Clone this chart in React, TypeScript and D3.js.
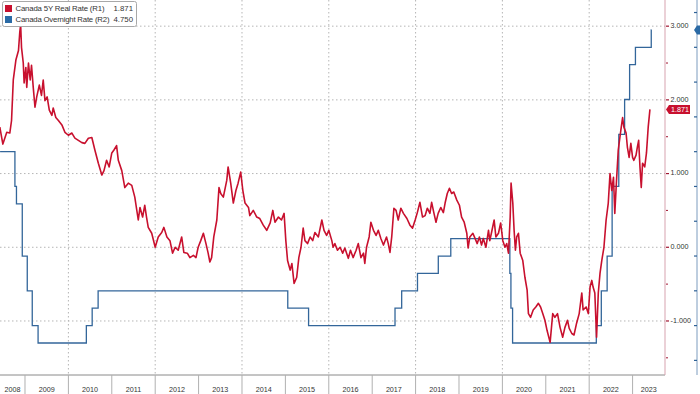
import React from "react";
import * as d3 from "d3";

// ---------- DATA ----------
const redT: number[] = [
  2008.42, 2008.49, 2008.58, 2008.65, 2008.69, 2008.73, 2008.79, 2008.85, 2008.88, 2008.9, 2008.92, 2008.96, 2008.98,
  2009.02, 2009.04, 2009.08, 2009.12, 2009.15, 2009.19, 2009.23, 2009.27, 2009.33, 2009.38, 2009.42, 2009.46, 2009.51,
  2009.56, 2009.62, 2009.65, 2009.71, 2009.77, 2009.85, 2009.92, 2010.0, 2010.08, 2010.15, 2010.23, 2010.31, 2010.38,
  2010.46, 2010.54, 2010.61, 2010.69, 2010.77, 2010.82, 2010.88, 2010.94, 2011.0, 2011.05, 2011.11, 2011.15, 2011.23,
  2011.3, 2011.38, 2011.46, 2011.53, 2011.61, 2011.65, 2011.71, 2011.76, 2011.8, 2011.84, 2011.92, 2012.0, 2012.07,
  2012.15, 2012.2, 2012.27, 2012.34, 2012.4, 2012.46, 2012.53, 2012.61, 2012.66, 2012.74, 2012.8, 2012.88, 2012.94,
  2012.99, 2013.05, 2013.11, 2013.17, 2013.22, 2013.26, 2013.3, 2013.35, 2013.42, 2013.47, 2013.51, 2013.57, 2013.65,
  2013.68, 2013.74, 2013.8, 2013.86, 2013.91, 2013.97, 2014.02, 2014.07, 2014.15, 2014.18, 2014.26, 2014.34, 2014.41,
  2014.49, 2014.57, 2014.65, 2014.71, 2014.76, 2014.84, 2014.91, 2014.97, 2015.01, 2015.05, 2015.11, 2015.15, 2015.2,
  2015.26, 2015.31, 2015.36, 2015.41, 2015.45, 2015.51, 2015.57, 2015.63, 2015.68, 2015.76, 2015.84, 2015.89, 2015.95,
  2016.0, 2016.07, 2016.1, 2016.14, 2016.2, 2016.26, 2016.32, 2016.37, 2016.45, 2016.5, 2016.56, 2016.63, 2016.68,
  2016.74, 2016.8, 2016.83, 2016.87, 2016.93, 2016.97, 2017.03, 2017.09, 2017.14, 2017.2, 2017.26, 2017.33, 2017.37,
  2017.41, 2017.45, 2017.5, 2017.55, 2017.6, 2017.66, 2017.72, 2017.8, 2017.87, 2017.93, 2017.99, 2018.04, 2018.1,
  2018.16, 2018.22, 2018.27, 2018.33, 2018.37, 2018.42, 2018.47, 2018.52, 2018.58, 2018.64, 2018.68, 2018.73, 2018.78,
  2018.83, 2018.88, 2018.95, 2019.01, 2019.06, 2019.12, 2019.18, 2019.21, 2019.25, 2019.32, 2019.37, 2019.42, 2019.47,
  2019.52, 2019.56, 2019.62, 2019.68, 2019.71, 2019.75, 2019.81, 2019.85, 2019.91, 2019.96, 2020.01, 2020.06, 2020.1,
  2020.14, 2020.18, 2020.2, 2020.24, 2020.27, 2020.3, 2020.33, 2020.37, 2020.41, 2020.47, 2020.52, 2020.57, 2020.6,
  2020.65, 2020.71, 2020.77, 2020.83, 2020.88, 2020.93, 2020.98, 2021.03, 2021.1, 2021.16, 2021.21, 2021.27, 2021.33,
  2021.39, 2021.44, 2021.5, 2021.54, 2021.6, 2021.65, 2021.71, 2021.77, 2021.83, 2021.86, 2021.93, 2021.98, 2022.02,
  2022.06, 2022.09, 2022.13, 2022.17, 2022.21, 2022.25, 2022.29, 2022.34, 2022.39, 2022.44, 2022.48, 2022.52, 2022.56,
  2022.59, 2022.63, 2022.67, 2022.73, 2022.77, 2022.8, 2022.85, 2022.88, 2022.92, 2022.96, 2023.0, 2023.03, 2023.08,
  2023.11, 2023.14, 2023.17, 2023.2, 2023.23, 2023.28, 2023.32, 2023.36, 2023.4,
];
const redV: number[] = [
  1.63, 1.4, 1.56, 1.55, 1.72, 2.27, 2.54, 2.67, 2.92, 3.02, 2.71, 2.5, 2.23,
  2.44, 2.17, 2.5, 2.27, 2.47, 2.17, 1.9, 2.04, 2.2, 2.06, 2.27, 1.99, 2.04,
  1.86, 1.79, 1.89, 1.76, 1.72, 1.66, 1.56, 1.52, 1.55, 1.48, 1.45, 1.42, 1.41,
  1.48, 1.49, 1.32, 1.14, 0.98, 1.04, 1.18, 1.09, 1.28, 1.32, 1.38, 1.18, 1.04,
  0.81, 0.87, 0.84, 0.68, 0.37, 0.54, 0.41, 0.57, 0.41, 0.27, 0.19, 0.0, 0.14,
  0.2, 0.27, 0.14, 0.09, -0.08, 0.0, -0.04, 0.14, -0.07, -0.08, -0.14, -0.11, -0.14,
  0.0, 0.09, 0.19, 0.05, -0.08, -0.2, -0.14, 0.14, 0.37, 0.81, 0.73, 0.68, 0.91,
  1.09, 0.87, 0.6, 0.77, 0.87, 1.02, 0.77, 0.6, 0.54, 0.43, 0.5, 0.41, 0.39,
  0.3, 0.23, 0.33, 0.5, 0.34, 0.41, 0.37, 0.46, 0.09, -0.18, -0.31, -0.22, -0.49,
  -0.41, -0.14, 0.0, 0.26, 0.09, 0.05, 0.14, 0.09, 0.2, 0.14, 0.37, 0.23, 0.16,
  0.23, 0.09, 0.0, 0.05, -0.04, 0.0, -0.08, -0.01, -0.15, -0.04, -0.14, -0.04, 0.05,
  -0.14, -0.08, -0.22, 0.0, 0.14, 0.34, 0.23, 0.16, 0.23, 0.12, 0.03, 0.14, 0.05,
  -0.07, 0.14, 0.53, 0.5, 0.37, 0.53, 0.46, 0.39, 0.3, 0.26, 0.37, 0.47, 0.61,
  0.41, 0.43, 0.53, 0.46, 0.61, 0.47, 0.34, 0.46, 0.54, 0.47, 0.6, 0.73, 0.8,
  0.73, 0.75, 0.64, 0.57, 0.41, 0.34, 0.19, -0.01, 0.14, 0.19, 0.12, 0.05, 0.14,
  0.03, 0.12, 0.0, 0.23, 0.09, 0.2, 0.37, 0.14, 0.19, 0.33, 0.09, 0.0, 0.05,
  -0.08, 0.41, 0.87, 0.6, 0.23, -0.04, 0.14, 0.19, -0.08, -0.18, -0.41, -0.58, -0.9,
  -0.95, -0.85, -0.81, -0.76, -0.81, -0.9, -0.99, -1.13, -1.29, -0.9, -0.95, -0.9, -1.09,
  -1.22, -1.09, -0.99, -1.1, -1.17, -1.19, -1.03, -0.9, -0.62, -0.85, -0.81, -0.9, -0.54,
  -0.45, -0.54, -0.62, -1.22, -0.62, -0.35, -0.18, 0.0, 0.37, 0.6, 1.0, 0.77, 0.95,
  0.46, 0.91, 1.32, 1.59, 1.76, 1.63, 1.55, 1.36, 1.22, 1.41, 1.22, 1.18, 1.25,
  1.36, 1.45, 1.09, 0.81, 1.14, 1.09, 1.28, 1.63, 1.871,
];

const blueDates: string[] = [
  "2008-06-05", "2008-10-08", "2008-10-21", "2008-12-09", "2009-01-20", "2009-03-03", "2009-04-21",
  "2010-06-01", "2010-07-20", "2010-09-08", "2015-01-21", "2015-07-15", "2017-07-12", "2017-09-06",
  "2018-01-17", "2018-07-11", "2018-10-24", "2020-03-04", "2020-03-13", "2020-03-27", "2022-03-02",
  "2022-04-13", "2022-06-01", "2022-07-13", "2022-09-07", "2022-10-26", "2022-12-07", "2023-01-25",
  "2023-06-07", "2023-06-10",
];
const blueV: number[] = [
  3.0, 2.5, 2.25, 1.5, 1.0, 0.5, 0.25,
  0.5, 0.75, 1.0, 0.75, 0.5, 0.75, 1.0,
  1.25, 1.5, 1.75, 1.25, 0.75, 0.25, 0.5,
  1.0, 1.5, 2.5, 3.25, 3.75, 4.25, 4.5,
  4.75, 4.75,
];

const years: number[] = [2008, 2009, 2010, 2011, 2012, 2013, 2014, 2015, 2016, 2017, 2018, 2019, 2020, 2021, 2022, 2023];
const r1Ticks: number[] = [3, 2, 1, 0, -1];
const r1Minor: number[] = [2.5, 1.5, 0.5, -0.5, -1.5];
const r2Ticks: number[] = [0, 0.5, 1, 1.5, 2, 2.5, 3, 3.5, 4, 4.5, 5];
const gridYears: number[] = [2010, 2012, 2014, 2016, 2018, 2020, 2022];

const legendItems = [
  { name: "Canada 5Y Real Rate (R1)", value: "1.871", color: "#c8102e", len: 89 },
  { name: "Canada Overnight Rate (R2)", value: "4.750", color: "#2a6aa5", len: 94 },
];

// ---------- HELPERS ----------
function decYear(s: string): number {
  const [y, m, d] = s.split("-").map(Number);
  const start = Date.UTC(y, 0, 1);
  const end = Date.UTC(y + 1, 0, 1);
  return y + (Date.UTC(y, m - 1, d) - start) / (end - start);
}

const W = 700;
const H = 394;
const PL = 0;
const PR = 665;
const PT = 0;
const PB = 375;
const FONT = "'Liberation Sans', Arial, sans-serif";

export default function App() {
  const x = d3.scaleLinear().domain([2008.424, 2023.747]).range([PL, PR]);
  const y1 = d3.scaleLinear().domain([-1.733, 3.355]).range([PB, PT]);
  const y2 = d3.scaleLinear().domain([-0.21, 5.18]).range([PB, PT]);

  const redData = redT.map((t, i) => [t, redV[i]] as [number, number]);
  const blueData = blueDates.map((s, i) => [decYear(s), blueV[i]] as [number, number]);

  const redLine = d3
    .line<[number, number]>()
    .x((d) => x(d[0]))
    .y((d) => y1(d[1]));
  const blueLine = d3
    .line<[number, number]>()
    .x((d) => x(d[0]))
    .y((d) => y2(d[1]))
    .curve(d3.curveStepAfter);

  const lastRed = redV[redV.length - 1];
  const lastBlue = blueV[blueV.length - 1];
  const ry = y1(lastRed);
  const by = y2(lastBlue);

  return (
    <svg
      width={W}
      height={H}
      style={{ position: "absolute", left: 0, top: 0, background: "#fff" }}
      fontFamily={FONT}
    >
      <defs>
        <clipPath id="plot">
          <rect x={PL} y={PT} width={PR - PL} height={PB - PT} />
        </clipPath>
      </defs>
      <rect x={0} y={0} width={W} height={H} fill="#fff" />

      {/* horizontal grid */}
      {r1Ticks.map((v) => (
        <line key={"hg" + v} x1={PL} x2={PR} y1={y1(v)} y2={y1(v)} stroke="#b5b5b5" strokeWidth={1} strokeDasharray="1.5,2.5" />
      ))}
      {/* vertical grid */}
      {gridYears.map((yr) => (
        <line key={"vg" + yr} x1={x(yr)} x2={x(yr)} y1={PT} y2={PB} stroke="#b5b5b5" strokeWidth={1} strokeDasharray="1.5,2.5" />
      ))}

      <g clipPath="url(#plot)">
        <path d={blueLine(blueData) || ""} fill="none" stroke="#33669a" strokeWidth={1.3} />
        <path d={redLine(redData) || ""} fill="none" stroke="#c8102e" strokeWidth={1.6} strokeLinejoin="round" />
      </g>

      {/* bottom axis */}
      <line x1={PL} x2={PR} y1={PB} y2={PB} stroke="#8a8a8a" strokeWidth={1} />
      {years.map((yr) => {
        const bx = x(yr);
        const a = Math.max(PL, x(yr));
        const b = Math.min(PR, x(yr + 1));
        return (
          <g key={"yr" + yr}>
            {bx > PL && bx < PR && (
              <line x1={bx} x2={bx} y1={PB} y2={H} stroke="#b0b0b0" strokeWidth={1} />
            )}
            <text x={(a + b) / 2} y={390} fontSize={7.2} fill="#333" textAnchor="middle" dominantBaseline="middle">
              {yr}
            </text>
          </g>
        );
      })}

      {/* R1 axis */}
      <line x1={PR} x2={PR} y1={PT} y2={PB} stroke="#d7a3af" strokeWidth={1} />
      {r1Ticks.map((v) => (
        <g key={"r1" + v}>
          <line x1={PR + 1} x2={PR + 4} y1={y1(v)} y2={y1(v)} stroke="#a01530" strokeWidth={1.2} />
          <text x={PR + 5.5} y={y1(v)} fontSize={7.2} fill="#333" dominantBaseline="middle">
            {d3.format(".3f")(v).replace("−", "-")}
          </text>
        </g>
      ))}
      {r1Minor.map((v) => (
        <line key={"r1m" + v} x1={PR + 1} x2={PR + 3} y1={y1(v)} y2={y1(v)} stroke="#a01530" strokeWidth={1} />
      ))}
      {/* red last-value tag */}
      <path
        d={`M${PR + 1},${ry} L${PR + 4},${ry - 4.5} L${PR + 25},${ry - 4.5} L${PR + 25},${ry + 4.5} L${PR + 4},${ry + 4.5} Z`}
        fill="#c8102e"
      />
      <text x={PR + 6} y={ry + 0.5} fontSize={7.2} fill="#fff" dominantBaseline="middle">
        {d3.format(".3f")(lastRed)}
      </text>

      {/* R2 axis */}
      <line x1={697} x2={697} y1={PT} y2={PB} stroke="#7d9cbf" strokeWidth={1} />
      {r2Ticks.map((v) => (
        <line key={"r2" + v} x1={694} x2={697} y1={y2(v)} y2={y2(v)} stroke="#2f6296" strokeWidth={1.2} />
      ))}
      <path
        d={`M${694},${by} L${697},${by - 4.5} L${703},${by - 4.5} L${703},${by + 4.5} L${697},${by + 4.5} Z`}
        fill="#2a6aa5"
      />

      {/* legend */}
      <rect x={2.5} y={1.5} width={134} height={25} rx={2} fill="#fff" stroke="#a8a8a8" strokeWidth={1} />
      {legendItems.map((it, i) => (
        <g key={it.name}>
          <rect x={5} y={5 + i * 11} width={7} height={7} fill={it.color} />
          <text
            x={15.5}
            y={8.8 + i * 11}
            fontSize={7.8}
            fill="#333"
            dominantBaseline="middle"
            textLength={it.len}
            lengthAdjust="spacing"
          >
            {it.name}
          </text>
          <text x={133} y={8.8 + i * 11} fontSize={7.8} fill="#333" textAnchor="end" dominantBaseline="middle">
            {it.value}
          </text>
        </g>
      ))}
    </svg>
  );
}
